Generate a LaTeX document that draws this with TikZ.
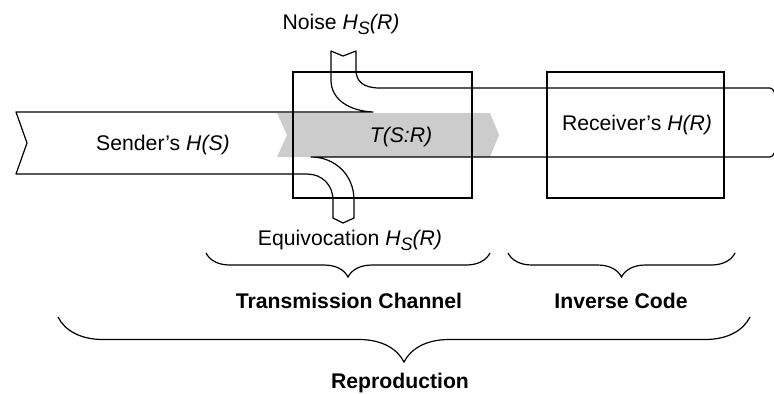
\documentclass[tikz,border=0pt]{standalone}
\usepackage{fontspec}
\setmainfont{Liberation Sans}
\usetikzlibrary{decorations.pathreplacing, positioning}
\newcommand{\Hsr}{\textit{H\raisebox{-0.5ex}{\fontsize{9}{10}\selectfont S}(R)}}

\begin{document}
\begin{tikzpicture}[x=0.5pt, y=-0.5pt, font=\fontsize{10.6}{12}\selectfont,
        flow/.style={line width=0.6pt, line join=round},
        boxframe/.style={draw, line width=1.3pt, inner sep=0pt},
        curly/.style={line width=0.6pt, decorate, decoration={brace, mirror, amplitude=#1}},
        lbl/.style={anchor=base, inner sep=0pt},
        heading/.style={lbl, font=\fontsize{10.6}{12}\selectfont\bfseries}]
                \useasboundingbox (0,0) rectangle (774,393);
                \clip (0,0) rectangle (774,393);

                \fill[black!20] (277,113) -- (490,113) -- (499,135) -- (490,157) -- (277,157) -- (287,135) -- cycle;

                \draw[flow] (373,112) -- (16,112) -- (27,143) -- (16,174) -- (307,174)
                    .. controls (322,174) and (333,185) .. (333,200) -- (333,218) -- (343,223) -- (354,218) -- (354,200)
                    .. controls (354,175) and (335,157) .. (311,157) -- (770,157)
                    .. controls (774,157) and (776,150) .. (777,140) -- (777,105)
                    .. controls (776,95) and (774,88) .. (770,88) -- (380,88)
                    .. controls (364,88) and (356,82) .. (356,70) -- (356,51) -- (343,56) -- (331,51) -- (331,80)
                    .. controls (331,100) and (350,111) .. cycle;

                \node[boxframe, minimum width=89.5pt, minimum height=63pt] (chan) at (382.5,135) {};
                \node[boxframe, minimum width=88.5pt, minimum height=63pt] (recv) at (635.5,135) {};

                \node[lbl] (noise) at (341,29) {Noise \Hsr};
                \node[lbl] (sender) at (163,150) {Sender's \textit{H(S)}};
                \node[lbl] (trans) at (401,142) {\textit{T(S:R)}};
                \node[lbl] (receiver) at (637,130) {Receiver's \textit{H(R)}};
                \node[lbl] (equiv) at (350,245) {Equivocation \Hsr};

                \coordinate (chanL) at (206,253);
                \coordinate (chanR) at (490,253);
                \coordinate (invL) at (508,253);
                \coordinate (invR) at (735,253);
                \coordinate (reproL) at (58,317);
                \coordinate (reproR) at (750,317);
                \draw[curly=12pt] (chanL) -- (chanR);
                \draw[curly=12pt] (invL) -- (invR);
                \draw[curly=22.5pt] (reproL) -- (reproR);

                \node[heading] (chanlbl) at (349,308) {Transmission Channel};
                \node[heading] (invlbl) at (621,308) {Inverse Code};
                \node[heading] (reprolbl) at (400,388) {Reproduction};
\end{tikzpicture}
\end{document}
